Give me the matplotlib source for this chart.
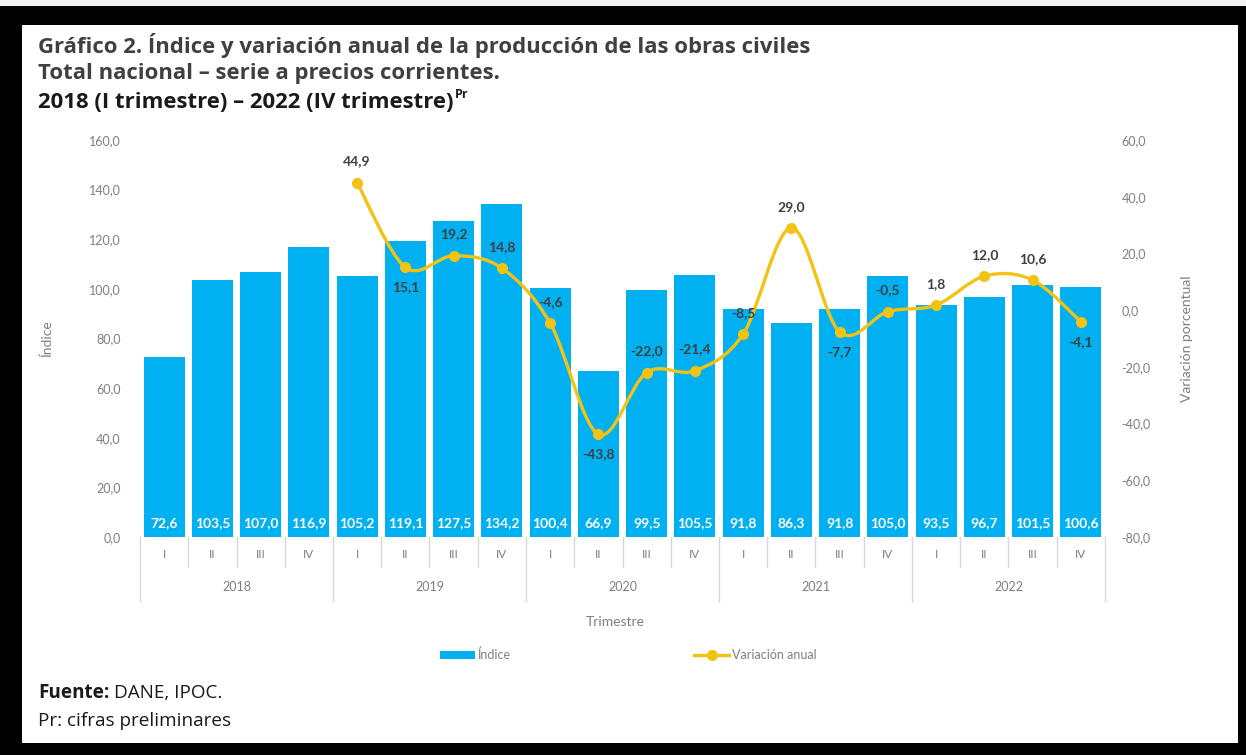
import numpy as np
import matplotlib.pyplot as plt
from matplotlib.path import Path
from matplotlib.patches import PathPatch, Rectangle
from matplotlib.lines import Line2D

plt.rcParams['font.family'] = ['Lato', 'DejaVu Sans']

years = ['2018', '2019', '2020', '2021', '2022']
quarters = ['I', 'II', 'III', 'IV']
indice = [72.6, 103.5, 107.0, 116.9,
          105.2, 119.1, 127.5, 134.2,
          100.4, 66.9, 99.5, 105.5,
          91.8, 86.3, 91.8, 105.0,
          93.5, 96.7, 101.5, 100.6]
# variación anual starts in 2019-I
variacion = [None, None, None, None,
             44.9, 15.1, 19.2, 14.8,
             -4.6, -43.8, -22.0, -21.4,
             -8.5, 29.0, -7.7, -0.5,
             1.8, 12.0, 10.6, -4.1]
label_below = {5, 9, 14, 19}

BLUE = '#00B0F0'
GOLD = '#F2C314'
TXT = '#404040'
GRAY = '#7F7F7F'
SEP = '#D9D9D9'
W, H = 1246, 755


def fmt(v):
    return f'{v:.1f}'.replace('.', ',')


fig = plt.figure(figsize=(W / 100, H / 100), dpi=100)
fig.patch.set_facecolor('black')
# white page inside the dark frame
fig.add_artist(Rectangle((22 / W, 12 / H), (1238 - 22) / W, (730 - 12) / H,
                         transform=fig.transFigure, facecolor='white',
                         edgecolor='none', zorder=0))
fig.add_artist(Rectangle((0, 749 / H), 1, 6 / H, transform=fig.transFigure,
                         facecolor='#F2F2F2', edgecolor='none', zorder=0))

ax = fig.add_axes([140 / W, 1 - 537 / H, 965 / W, 397 / H])
ax.set_facecolor('none')
n = len(indice)
x = np.arange(n)
ax.bar(x, indice, width=0.85, color=BLUE, zorder=2)
for xi, v in zip(x, indice):
    ax.text(xi, 3, fmt(v), ha='center', va='bottom', color='white',
            fontsize=10, fontweight='bold', zorder=3)
ax.set_xlim(-0.5, n - 0.5)
ax.set_ylim(0, 160)
ax.set_yticks(np.arange(0, 161, 20))
ax.set_yticklabels([fmt(v) for v in np.arange(0, 161, 20)], color=GRAY, fontsize=9)
ax.tick_params(axis='y', length=0, pad=14)
ax.set_xticks([])
for s in ax.spines.values():
    s.set_visible(False)
ax.set_ylabel('Índice', color=GRAY, fontsize=10, labelpad=26)

ax2 = ax.twinx()
ax2.set_ylim(-80, 60)
ax2.set_yticks(np.arange(-80, 61, 20))
ax2.set_yticklabels([fmt(v) for v in np.arange(-80, 61, 20)], color=GRAY, fontsize=9)
ax2.tick_params(axis='y', length=0, pad=12)
for s in ax2.spines.values():
    s.set_visible(False)
ax2.set_ylabel('Variación porcentual', color=GRAY, fontsize=10, labelpad=22)

# smoothed line (Catmull-Rom as cubic Bezier segments)
idx = [i for i, v in enumerate(variacion) if v is not None]
pts = np.array([[i, variacion[i]] for i in idx], dtype=float)
verts = [tuple(pts[0])]
codes = [Path.MOVETO]
for k in range(len(pts) - 1):
    p0 = pts[k - 1] if k > 0 else pts[k]
    p1, p2 = pts[k], pts[k + 1]
    p3 = pts[k + 2] if k + 2 < len(pts) else pts[k + 1]
    c1 = p1 + (p2 - p0) / 6
    c2 = p2 - (p3 - p1) / 6
    verts += [tuple(c1), tuple(c2), tuple(p2)]
    codes += [Path.CURVE4] * 3
ax2.add_patch(PathPatch(Path(verts, codes), facecolor='none', edgecolor=GOLD,
                        lw=2.4, zorder=4))
ax2.plot(pts[:, 0], pts[:, 1], 'o', color=GOLD, ms=7, zorder=5)
for i in idx:
    v = variacion[i]
    below = i in label_below
    ax2.annotate(fmt(v), (i, v), xytext=(0, -10 if below else 11),
                 textcoords='offset points', ha='center',
                 va='top' if below else 'bottom', color=TXT,
                 fontsize=10, fontweight='bold', zorder=6)

# two-level category axis
tr = ax.get_xaxis_transform()
for i in range(n + 1):
    depth = -0.16 if i % 4 == 0 else -0.075
    ax.plot([i - 0.5, i - 0.5], [0, depth], transform=tr, color=SEP,
            lw=1, clip_on=False)
for i in range(n):
    ax.text(i, -0.045, quarters[i % 4], transform=tr, ha='center', va='center',
            color=GRAY, fontsize=8.5)
for j, yr in enumerate(years):
    ax.text(4 * j + 1.5, -0.125, yr, transform=tr, ha='center', va='center',
            color=GRAY, fontsize=9)
fig.text(615 / W, 1 - 622 / H, 'Trimestre', ha='center', va='center',
         color=GRAY, fontsize=10)

handles = [Rectangle((0, 0), 1, 1, facecolor=BLUE),
           Line2D([], [], color=GOLD, lw=2.4, marker='o', ms=7)]
fig.legend(handles, ['Índice', 'Variación anual'], loc='center',
           bbox_to_anchor=(628 / W, 1 - 655 / H), ncol=2, frameon=False,
           fontsize=9, labelcolor=GRAY, columnspacing=14.7, handlelength=2.8,
           handletextpad=0.2)

title_font = dict(family=['Open Sans', 'DejaVu Sans'], fontweight='bold',
                  fontsize=15.9, va='center')
fig.text(38 / W, 1 - 45 / H,
         'Gráfico 2. Índice y variación anual de la producción de las obras civiles',
         color=TXT, **title_font)
fig.text(38 / W, 1 - 74 / H, 'Total nacional – serie a precios corrientes.',
         color=TXT, **title_font)
sub = fig.text(38 / W, 1 - 103 / H, '2018 (I trimestre) – 2022 (IV trimestre)',
               color='#1A1A1A', **title_font)
fig.canvas.draw()
bb = sub.get_window_extent()
fig.text(bb.x1 / W + 1 / W, 1 - 95 / H, 'Pr', color='#1A1A1A',
         family=['Open Sans', 'DejaVu Sans'], fontweight='bold', fontsize=9,
         va='center')

foot_font = dict(family=['Open Sans', 'DejaVu Sans'], fontsize=13.6, va='center',
                 color='#1A1A1A')
f1 = fig.text(38 / W, 1 - 693 / H, 'Fuente:', fontweight='bold', **foot_font)
fig.canvas.draw()
bb = f1.get_window_extent()
fig.text(bb.x1 / W + 5 / W, 1 - 693 / H, 'DANE, IPOC.', **foot_font)
fig.text(38 / W, 1 - 721 / H, 'Pr: cifras preliminares', **foot_font)

fig.savefig('out.png', dpi=100, facecolor=fig.get_facecolor())
